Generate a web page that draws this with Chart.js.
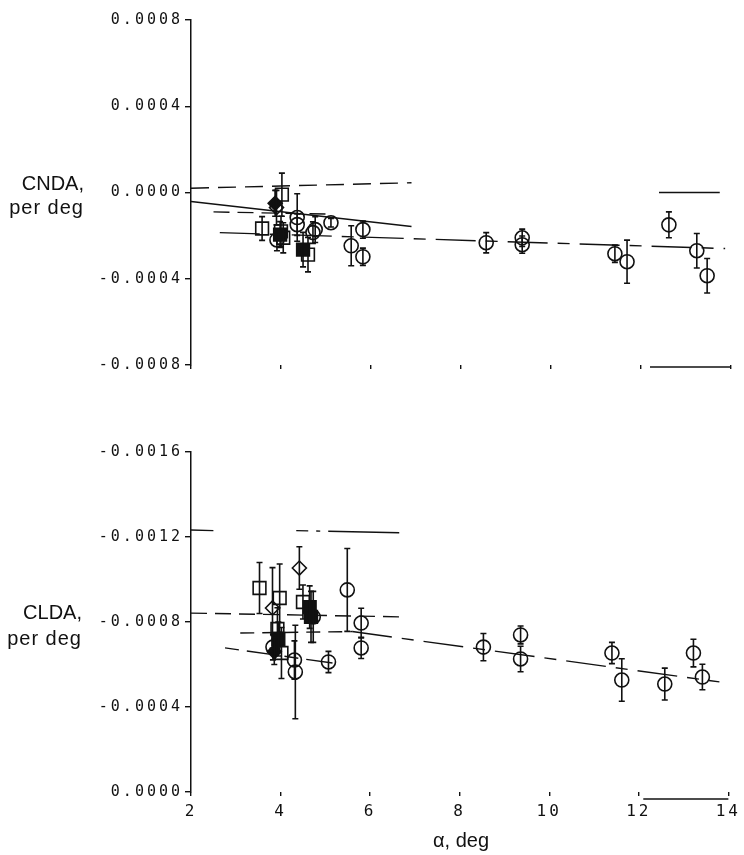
<!DOCTYPE html>
<html>
<head>
<meta charset="utf-8">
<script src="https://cdn.jsdelivr.net/npm/chart.js"></script>
<style>
  body { margin: 0; background: #fff; }
  #wrap { position: relative; width: 744px; height: 855px; overflow: hidden; }
  canvas { position: absolute; left: 0; }
  .ttl { position: absolute; font-family: "Liberation Sans", Arial, sans-serif; font-size: 20px; color: #111; text-align: right; }
</style>
</head>
<body>
<div id="wrap">
  <canvas id="cnda" width="744" height="400" style="top:0"></canvas>
  <canvas id="clda" width="744" height="435" style="top:420px"></canvas>
  <div class="ttl" style="right:660px; top:171px; line-height:24px">CNDA,<br><span style="letter-spacing:1px">per deg</span></div>
  <div class="ttl" style="right:662px; top:599px; line-height:26px">CLDA,<br><span style="letter-spacing:1px">per deg</span></div>
  <div class="ttl" style="left:433px; top:828px; line-height:24px; text-align:left">α, deg</div>
</div>
<script>
// x axis
const alphaMin = 2, alphaMax = 14, alphaStep = 2;

// CNDA panel (top)
const cndaCircleAlpha = [3.91, 4.36, 4.36, 4.71, 4.76, 5.11, 5.56, 5.82, 5.82, 8.56, 9.36, 9.36, 11.42, 11.69, 12.62, 13.24, 13.47];
const cndaCircleVal   = [-0.00022, -0.000116, -0.000149, -0.000186, -0.000172, -0.00014, -0.000247, -0.000172, -0.000298, -0.000233, -0.00021, -0.000242, -0.000284, -0.000321, -0.00015, -0.00027, -0.000386];
const cndaCircleErr   = [0.00005, 0.00011, 0.00005, 0.00005, 0.00006, 0.00002, 0.000093, 0.00004, 0.00004, 0.000047, 0.00004, 0.00004, 0.00004, 0.0001, 0.00006, 0.00008, 0.00008];
const cndaSquareAlpha = [3.58, 4.02, 4.0, 4.05, 4.6];
const cndaSquareVal   = [-0.000167, -0.00001, -0.00018, -0.00021, -0.000288];
const cndaSquareErr   = [0.000055, 0.0001, 0.00007, 0.00007, 0.00008];
const cndaSqFillAlpha = [3.98, 4.49];
const cndaSqFillVal   = [-0.000195, -0.000265];
const cndaSqFillErr   = [0.00006, 0.00008];
const cndaDiamAlpha   = [3.9];
const cndaDiamVal     = [-0.00007];
const cndaDiamErr     = [0.00008];
const cndaDmFillAlpha = [3.87];
const cndaDmFillVal   = [-0.00005];
const cndaDmFillErr   = [0.00006];
// fit lines: [alpha start, alpha end], [value start, value end]
const cndaFitA = { a: [2, 6.9], v: [0.00002, 0.000045], dash: [18, 9] };
const cndaFitB = { a: [2, 6.9], v: [-0.000042, -0.000158], dash: [] };
const cndaFitC = { a: [2.5, 5.0], v: [-0.00009, -0.0001], dash: [16, 8] };
const cndaFitD = { a: [2.64, 13.87], v: [-0.000186, -0.00026], dash: [40, 10, 12, 10] };
const cndaFitE = { a: [12.4, 13.75], v: [0, 0], dash: [] };
const cndaStub = { a: [12.2, 14], v: [-0.000809, -0.000809], dash: [] };
const cndaTicks = { min: -0.0008, max: 0.0008, step: 0.0004 };

// CLDA panel (bottom)
const cldaCircleAlpha = [3.83, 4.31, 4.33, 4.73, 5.07, 5.49, 5.8, 5.8, 8.53, 9.36, 9.36, 11.4, 11.62, 12.58, 13.22, 13.42];
const cldaCircleVal   = [-0.000682, -0.000621, -0.000565, -0.000824, -0.000612, -0.000951, -0.000795, -0.000678, -0.000682, -0.000739, -0.000626, -0.000654, -0.000527, -0.000508, -0.000654, -0.000541];
const cldaCircleErr   = [0.00006, 0.00009, 0.00022, 0.00012, 0.00005, 0.000195, 0.00007, 0.00005, 0.000064, 0.000042, 0.00006, 0.00005, 0.0001, 0.000075, 0.000065, 0.00006];
const cldaSquareAlpha = [3.53, 3.98, 3.93, 4.02, 4.5];
const cldaSquareVal   = [-0.00096, -0.000913, -0.000767, -0.000654, -0.000894];
const cldaSquareErr   = [0.00012, 0.00016, 0.0001, 0.00012, 0.00008];
const cldaSqFillAlpha = [4.65, 4.68, 3.95];
const cldaSqFillVal   = [-0.00087, -0.000824, -0.00072];
const cldaSqFillErr   = [0.0001, 0.00012, 0.00008];
const cldaDiamAlpha   = [4.42, 3.82];
const cldaDiamVal     = [-0.001054, -0.000866];
const cldaDiamErr     = [0.0001, 0.00019];
const cldaDmFillAlpha = [3.86];
const cldaDmFillVal   = [-0.00066];
const cldaDmFillErr   = [0.00006];
const cldaFitA = { a: [2, 2.5], v: [-0.001233, -0.00123], dash: [] };
const cldaFitB = { a: [4.35, 6.65], v: [-0.00123, -0.00122], dash: [12, 8, 4, 8, 400] };
const cldaFitC = { a: [2, 6.7], v: [-0.000842, -0.000824], dash: [16, 8] };
const cldaFitD = { a: [3.1, 5.6], v: [-0.000748, -0.000755], dash: [14, 8] };
const cldaFitE = { a: [5.6, 13.8], v: [-0.000755, -0.000518], dash: [40, 10, 12, 10] };
const cldaFitF = { a: [2.76, 5.16], v: [-0.000678, -0.000607], dash: [14, 8, 30, 8] };
const cldaStub = { a: [12.1, 14], v: [0.000033, 0.000033], dash: [] };
const cldaTicks = { min: -0.0016, max: 0, step: 0.0004 };

const INK = '#111';

function pts(a, v) { return a.map((x, i) => ({ x: x, y: v[i] })); }

function markers(a, v, e, style, filled) {
  const sizes = { circle: 7, rect: 9, rectRot: 7 };
  return {
    type: 'scatter', data: pts(a, v), errs: e,
    pointStyle: style, pointRadius: sizes[style],
    borderColor: INK, borderWidth: 1.6,
    backgroundColor: filled ? INK : 'rgba(0,0,0,0)'
  };
}

function fit(f) {
  return {
    type: 'line', data: pts(f.a, f.v), showLine: true, pointRadius: 0,
    borderColor: INK, borderWidth: 1.4, borderDash: f.dash, clip: false, fill: false
  };
}

const errorBars = {
  id: 'errorBars',
  afterDatasetsDraw(chart) {
    const ctx = chart.ctx, ys = chart.scales.y;
    chart.data.datasets.forEach((ds, i) => {
      if (!ds.errs) return;
      const meta = chart.getDatasetMeta(i);
      ctx.save();
      ctx.strokeStyle = INK;
      ctx.lineWidth = 1.6;
      meta.data.forEach((p, j) => {
        const v = ds.data[j].y, e = ds.errs[j];
        const y1 = ys.getPixelForValue(v - e), y2 = ys.getPixelForValue(v + e);
        ctx.beginPath();
        ctx.moveTo(p.x, y1); ctx.lineTo(p.x, y2);
        ctx.moveTo(p.x - 3, y1); ctx.lineTo(p.x + 3, y1);
        ctx.moveTo(p.x - 3, y2); ctx.lineTo(p.x + 3, y2);
        ctx.stroke();
      });
      ctx.restore();
    });
  }
};

const spacing = {
  id: 'spacing',
  beforeDraw(chart) { chart.ctx.letterSpacing = '3px'; }
};

function makeChart(id, datasets, yt, reverse, padTop, xHeight, showX) {
  return new Chart(document.getElementById(id), {
    data: { datasets: datasets },
    plugins: [spacing, errorBars],
    options: {
      responsive: false, animation: false, devicePixelRatio: 1,
      layout: { padding: { left: 0, right: 13, top: padTop, bottom: 0 } },
      plugins: { legend: { display: false }, tooltip: { enabled: false } },
      scales: {
        x: {
          type: 'linear', min: alphaMin, max: alphaMax,
          afterFit: s => { s.height = xHeight; },
          border: { display: false },
          grid: { drawOnChartArea: false, tickLength: 4, color: INK, lineWidth: 1.4 },
          ticks: {
            display: showX, stepSize: alphaStep, padding: 6, color: INK,
            font: { family: 'DejaVu Sans Mono', size: 16 }
          }
        },
        y: {
          type: 'linear', min: yt.min, max: yt.max, reverse: reverse,
          afterFit: s => { s.width = 191; },
          border: { display: true, color: INK, width: 1.5 },
          grid: { drawOnChartArea: false, tickLength: 6, color: INK, lineWidth: 1.4 },
          ticks: {
            stepSize: yt.step, padding: 2, color: INK,
            font: { family: 'DejaVu Sans Mono', size: 15 },
            callback: v => (Math.abs(v) < 1e-9 ? 0 : v).toFixed(4)
          }
        }
      }
    }
  });
}

makeChart('cnda', [
  fit(cndaFitA), fit(cndaFitB), fit(cndaFitC), fit(cndaFitD), fit(cndaFitE), fit(cndaStub),
  markers(cndaCircleAlpha, cndaCircleVal, cndaCircleErr, 'circle', false),
  markers(cndaSquareAlpha, cndaSquareVal, cndaSquareErr, 'rect', false),
  markers(cndaSqFillAlpha, cndaSqFillVal, cndaSqFillErr, 'rect', true),
  markers(cndaDiamAlpha, cndaDiamVal, cndaDiamErr, 'rectRot', false),
  markers(cndaDmFillAlpha, cndaDmFillVal, cndaDmFillErr, 'rectRot', true)
], cndaTicks, false, 20, 35, false);

makeChart('clda', [
  fit(cldaFitA), fit(cldaFitB), fit(cldaFitC), fit(cldaFitD), fit(cldaFitE), fit(cldaFitF), fit(cldaStub),
  markers(cldaCircleAlpha, cldaCircleVal, cldaCircleErr, 'circle', false),
  markers(cldaSquareAlpha, cldaSquareVal, cldaSquareErr, 'rect', false),
  markers(cldaSqFillAlpha, cldaSqFillVal, cldaSqFillErr, 'rect', true),
  markers(cldaDiamAlpha, cldaDiamVal, cldaDiamErr, 'rectRot', false),
  markers(cldaDmFillAlpha, cldaDmFillVal, cldaDmFillErr, 'rectRot', true)
], cldaTicks, true, 32, 63, true);
</script>
</body>
</html>
